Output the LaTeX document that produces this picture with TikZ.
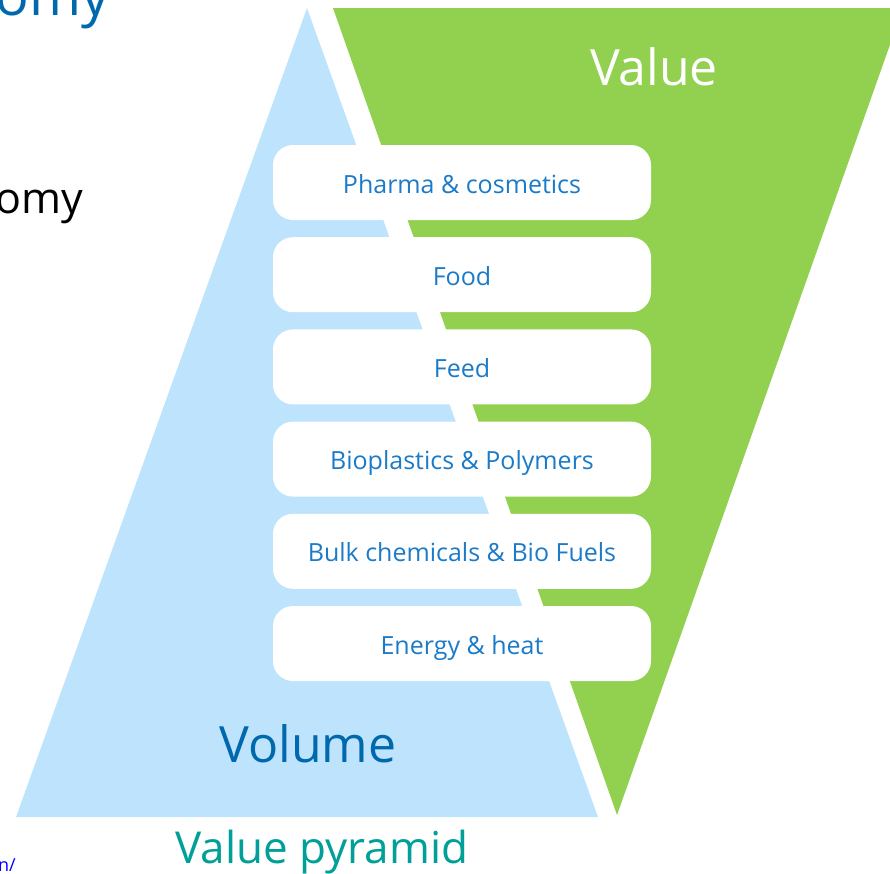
\documentclass[tikz,border=0pt]{standalone}
\usepackage{fontspec}
\setmainfont{Open Sans}
\usepackage{xcolor}
\usepackage{tikz}
\usetikzlibrary{backgrounds}
\usetikzlibrary{calc}

\definecolor{volblue}{HTML}{BDE4FC}
\definecolor{valgreen}{HTML}{92D050}
\definecolor{itemblue}{HTML}{1C7BC8}
\definecolor{darkblue}{HTML}{0068AD}
\definecolor{teal}{HTML}{00A098}

\tikzset{
	sector/.style = {fill = white, rounded corners = 20pt, minimum width = 378pt, minimum height = 75pt, inner sep = 0pt, text height = 21pt, text depth = 0pt, text = itemblue, font = \fontsize{25}{28}\selectfont},
	bigword/.style = {anchor = base, font = \fontsize{50}{56}\selectfont}
}

\begin{document}
\begin{tikzpicture}[x = 1pt, y = -1pt]
		\useasboundingbox (0,0) rectangle (890,873);
		\clip (0,0) rectangle (890,873);
		% the two triangles
		\fill[volblue] (307,8) -- (598,817) -- (16,817) -- cycle;
		\fill[valgreen] (333,8) -- (903,8) -- (617,815) -- cycle;
		\pgfmathsetmacro{\d}{92.2};
		\foreach \name [count = \i from 0] in {Pharma \& cosmetics, Food, Feed, Bioplastics \& Polymers, Bulk chemicals \& Bio Fuels, Energy \& heat}{
			\node[sector] (item\i) at (462, 182.5 + \i * \d) {\name};
		}
		\node[bigword, text = white] (value) at (654,85) {Value};
		\node[bigword, text = darkblue] (volume) at (308,762) {Volume};
		\node[anchor = base, text = teal, font = \fontsize{44}{48}\selectfont] (caption) at (322,863) {Value pyramid};
		% cut off text at the border
		\node[anchor = base east, inner sep = 0pt, text = darkblue, font = \fontsize{56}{60}\selectfont] (title) at (110,15) {omy};
		\node[anchor = base east, inner sep = 0pt, font = \fontsize{43}{48}\selectfont] (subtitle) at (83,213) {omy};
		\node[anchor = base east, inner sep = 0pt, text = blue, font = \fontsize{18}{20}\selectfont] (link) at (16,871) {en/};
	\end{tikzpicture}
\end{document}
